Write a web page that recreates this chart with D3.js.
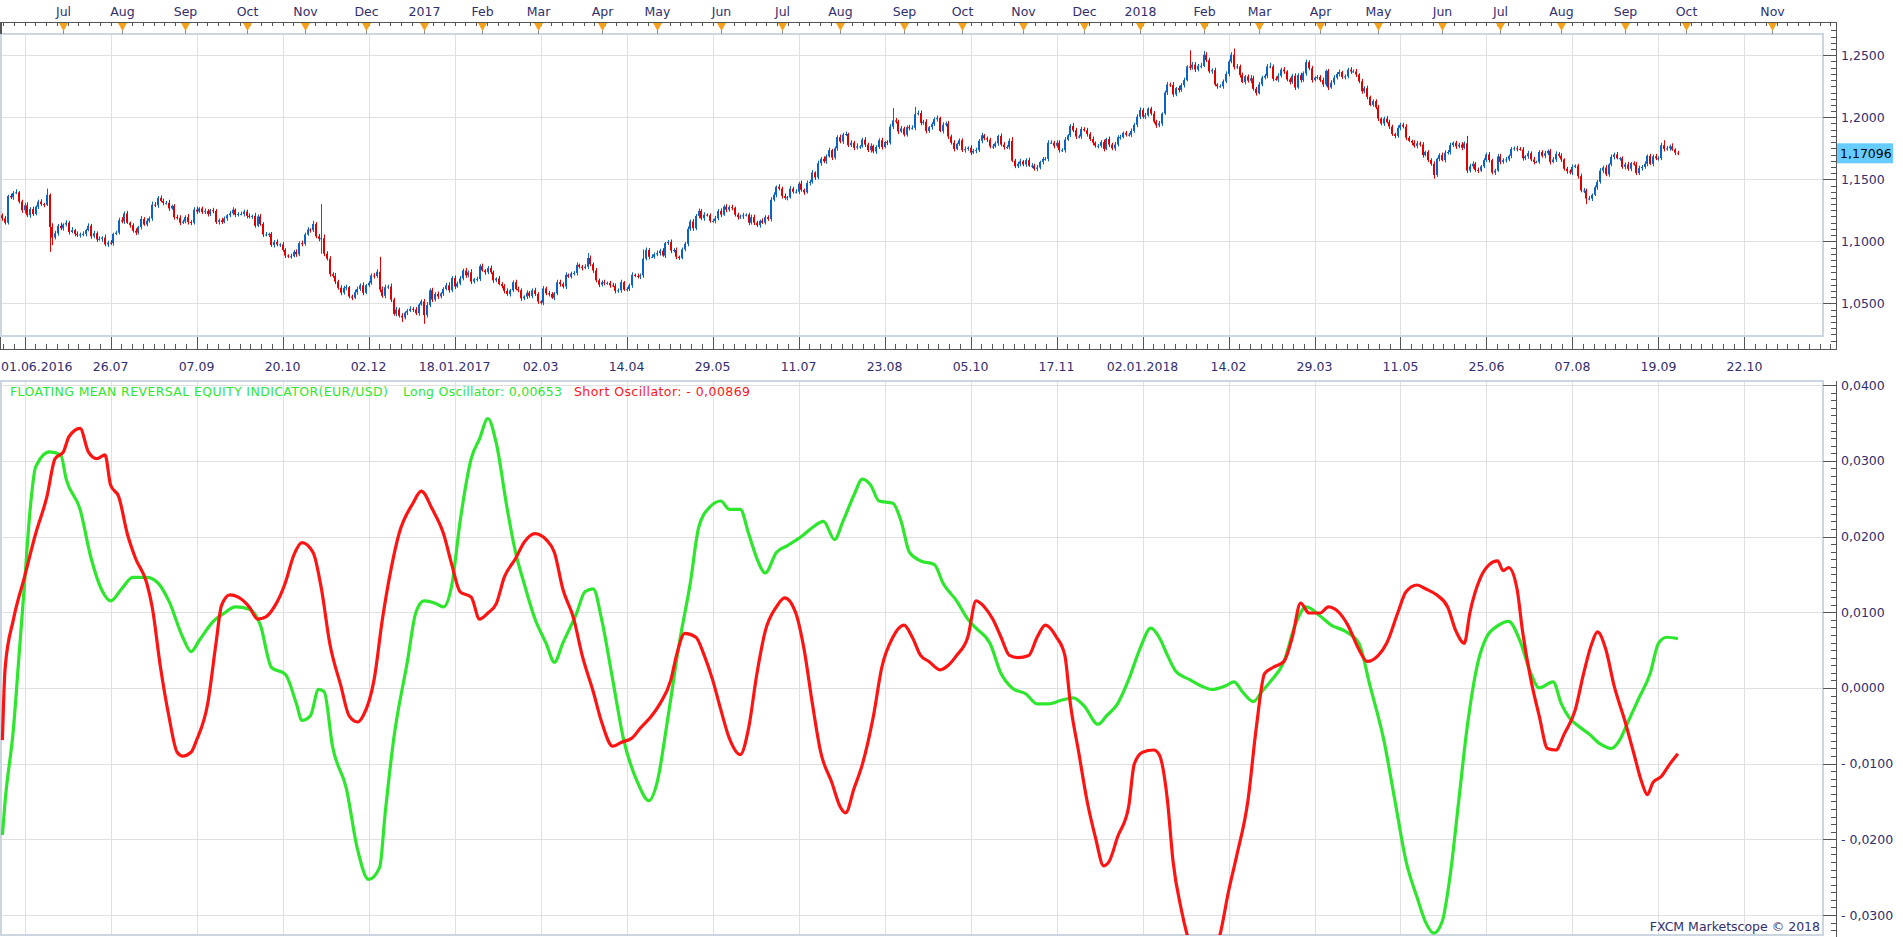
<!DOCTYPE html>
<html>
<head>
<meta charset="utf-8">
<script src="https://d3js.org/d3.v7.min.js"></script>
<style>
body { margin: 0; background: #fff; }
text { font-family: "DejaVu Sans", Verdana, sans-serif; font-size: 12.5px; fill: #302e6e; }
</style>
</head>
<body>
<div id="chart"></div>
<script>

// ---- data (EUR/USD daily, 01.06.2016 - 28.09.2018) ----
var firstOpen = 1.1210;
// daily closes, one trading week per line
var closes = [
1.1185,1.1150,1.1365,
1.1355,1.1390,1.1395,1.1320,1.1250,
1.1290,1.1210,1.1260,1.1220,1.1280,
1.1320,1.1300,1.1295,1.1375,1.1115,
1.1030,1.1065,1.1125,1.1105,1.1135,
1.1150,1.1075,1.1090,1.1060,1.1050,
1.1055,1.1060,1.1090,1.1125,1.1040,
1.1065,1.1015,1.1020,1.1030,1.0975,
1.0990,1.0985,1.1060,1.1070,1.1170,
1.1160,1.1225,1.1150,1.1130,1.1085,
1.1070,1.1115,1.1180,1.1135,1.1165,
1.1185,1.1295,1.1290,1.1350,1.1325,
1.1310,1.1310,1.1265,1.1285,1.1195,
1.1190,1.1150,1.1160,1.1195,1.1155,
1.1150,1.1255,1.1240,1.1265,1.1235,
1.1245,1.1220,1.1250,1.1245,1.1155,
1.1170,1.1155,1.1185,1.1210,1.1225,
1.1255,1.1215,1.1220,1.1220,1.1240,
1.1205,1.1200,1.1205,1.1125,1.1200,
1.1140,1.1055,1.1055,1.1060,1.0970,
1.0995,1.0975,1.0975,1.0930,1.0885,
1.0880,1.0880,1.0915,1.0895,1.0985,
1.0980,1.1055,1.1095,1.1090,1.1140,
1.1040,1.1020,1.1025,1.0900,1.0860,
1.0735,1.0720,1.0675,1.0625,1.0585,
1.0625,1.0630,1.0555,1.0545,1.0590,
1.0615,1.0645,1.0585,1.0645,1.0665,
1.0725,1.0720,1.0755,1.0610,1.0560,
1.0630,1.0635,1.0530,1.0415,1.0450,
1.0400,1.0385,1.0425,1.0440,1.0455,
1.0450,1.0420,1.0490,1.0515,
1.0405,1.0485,1.0605,1.0530,
1.0575,1.0555,1.0580,1.0615,1.0645,
1.0605,1.0705,1.0635,1.0660,1.0700,
1.0765,1.0725,1.0750,1.0675,1.0695,
1.0695,1.0800,1.0765,1.0750,1.0785,
1.0750,1.0685,1.0700,1.0655,1.0640,
1.0600,1.0575,1.0605,1.0670,1.0615,
1.0605,1.0540,1.0555,1.0585,1.0560,
1.0605,1.0575,1.0515,1.0505,1.0620,
1.0580,1.0575,1.0545,1.0580,1.0670,
1.0655,1.0635,1.0730,1.0715,1.0740,
1.0745,1.0810,1.0795,1.0785,1.0795,
1.0865,1.0815,1.0765,1.0685,1.0650,
1.0670,1.0665,1.0665,1.0645,1.0640,
1.0600,1.0605,1.0670,1.0610,1.0615,
1.0645,1.0730,1.0720,1.0715,1.0725,
1.0860,1.0930,1.0875,1.0875,1.0895,
1.0905,1.0925,1.0885,1.0985,1.0995,
1.0925,1.0930,1.0875,1.0865,1.0935,
1.0980,1.1100,1.1160,1.1105,1.1205,
1.1245,1.1185,1.1215,1.1210,1.1165,
1.1165,1.1185,1.1245,1.1215,1.1280,
1.1255,1.1275,1.1270,1.1215,1.1195,
1.1200,1.1210,1.1215,1.1150,1.1195,
1.1150,1.1130,1.1165,1.1150,1.1195,
1.1180,1.1335,1.1375,1.1440,1.1425,
1.1365,1.1350,1.1355,1.1425,1.1400,
1.1400,1.1465,1.1415,1.1395,1.1470,
1.1480,1.1555,1.1515,1.1630,1.1665,
1.1645,1.1685,1.1735,1.1675,1.1750,
1.1840,1.1805,1.1860,1.1865,1.1775,
1.1795,1.1755,1.1765,1.1765,1.1820,
1.1780,1.1735,1.1770,1.1725,1.1760,
1.1815,1.1760,1.1800,1.1795,1.1925,
1.1975,1.1965,1.1885,1.1910,1.1860,
1.1920,1.1915,1.1915,1.2025,1.2035,
1.1955,1.1965,1.1890,1.1920,1.1945,
1.1985,1.1995,1.1890,1.1940,1.1950,
1.1845,1.1795,1.1745,1.1785,1.1815,
1.1735,1.1745,1.1755,1.1715,1.1730,
1.1735,1.1810,1.1855,1.1830,1.1820,
1.1765,1.1765,1.1790,1.1850,1.1780,
1.1760,1.1760,1.1810,1.1650,1.1605,
1.1625,1.1645,1.1620,1.1655,1.1610,
1.1610,1.1585,1.1595,1.1640,1.1665,
1.1665,1.1795,1.1795,1.1770,1.1795,
1.1735,1.1735,1.1820,1.1855,1.1930,
1.1895,1.1845,1.1845,1.1905,1.1895,
1.1865,1.1825,1.1795,1.1770,1.1770,
1.1800,1.1745,1.1825,1.1780,1.1750,
1.1780,1.1840,1.1840,1.1875,1.1860,
1.1860,1.1890,1.1940,1.2005,
1.2060,1.2005,1.2015,1.2070,1.2030,
1.1965,1.1935,1.1950,1.2030,1.2200,
1.2265,1.2260,1.2185,1.2235,1.2220,
1.2260,1.2300,1.2410,1.2400,1.2425,
1.2385,1.2415,1.2415,1.2505,1.2460,
1.2370,1.2380,1.2265,1.2250,1.2250,
1.2290,1.2350,1.2450,1.2505,1.2405,
1.2410,1.2340,1.2285,1.2330,1.2295,
1.2315,1.2230,1.2195,1.2265,1.2320,
1.2335,1.2410,1.2410,1.2310,1.2305,
1.2335,1.2385,1.2370,1.2305,1.2285,
1.2335,1.2240,1.2340,1.2300,1.2355,
1.2445,1.2395,1.2300,1.2320,1.2325,
1.2300,1.2265,1.2375,1.2240,1.2280,
1.2320,1.2350,1.2365,1.2325,1.2330,
1.2385,1.2370,1.2370,1.2345,1.2290,
1.2210,1.2235,1.2165,1.2100,1.2130,
1.2080,1.1990,1.1950,1.1990,1.1960,
1.1925,1.1865,1.1850,1.1915,1.1940,
1.1925,1.1835,1.1810,1.1795,1.1770,
1.1790,1.1780,1.1695,1.1720,1.1655,
1.1625,1.1535,1.1665,1.1695,1.1655,
1.1715,1.1720,1.1775,1.1795,1.1765,
1.1780,1.1755,1.1790,1.1570,1.1605,
1.1625,1.1575,1.1570,1.1605,1.1655,
1.1700,1.1655,1.1555,1.1570,1.1685,
1.1640,1.1655,1.1660,1.1690,1.1745,
1.1750,1.1745,1.1740,1.1670,1.1685,
1.1710,1.1660,1.1640,1.1640,1.1720,
1.1690,1.1710,1.1730,1.1640,1.1660,
1.1705,1.1690,1.1660,1.1585,1.1565,
1.1555,1.1600,1.1610,1.1525,1.1410,
1.1410,1.1345,1.1345,1.1375,1.1435,
1.1480,1.1570,1.1595,1.1540,1.1620,
1.1680,1.1700,1.1670,1.1670,1.1600,
1.1620,1.1585,1.1630,1.1620,1.1550,
1.1590,1.1600,1.1625,1.1690,1.1625,
1.1685,1.1670,1.1670,1.1775,1.1745,
1.1750,1.1765,1.1740,1.1715,1.1710
];
// high above the body / low below the body, in pips
var wickUp = [
15,20,10, 20,15,25,10,15, 20,25,15,20,10, 15,20,10,50,10, 30,20,15,25,10,
20,15,25,10,20, 15,20,10,20,15, 20,15,20,10,25, 15,20,10,15,20, 25,15,20,10,15,
20,10,25,15,20, 15,25,20,15,20, 20,15,25,10,15, 20,20,15,15,25, 15,20,25,10,15,
20,15,10,20,15, 15,20,15,10,20, 20,10,15,20,15, 15,20,10,25,15, 20,15,20,10,15,
15,20,10,20,15, 10,20,15,20,15, 20,15,20,10,25, 15,20,275,30,20, 20,15,25,15,20,
15,20,10,15,20, 20,15,25,10,15, 15,20,20,120,25, 20,15,25,15,20, 15,20,10,15,20,
15,20,10,15, 20,25,15,20,
15,20,10,15,20, 25,15,20,15,20, 15,20,15,25,10, 20,15,20,10,15, 20,15,10,20,15,
15,20,10,15,20, 20,15,10,20,15, 15,20,15,10,20, 15,20,15,10,20, 20,15,20,10,15,
15,20,10,15,20, 40,20,15,20,15, 15,20,10,15,20, 20,15,20,10,15, 15,20,10,20,15,
75,20,15,20,15, 20,15,20,10,15, 20,15,20,10,15, 15,20,15,20,15, 20,15,20,10,15,
15,20,15,20,15, 20,15,20,10,15, 15,20,10,15,20, 20,15,10,20,15, 15,20,20,10,20,
15,20,10,20,15, 20,15,25,10,20, 15,20,10,20,15, 20,15,20,10,15, 15,20,15,20,10,
20,15,25,10,15, 20,15,20,10,15, 15,20,10,15,20, 100,20,15,20,15, 15,20,20,60,20,
20,15,20,10,15, 15,20,10,20,15, 20,15,20,10,15, 15,20,10,20,15, 20,15,20,10,15,
15,20,15,10,20, 20,15,20,30,15, 15,20,10,15,20, 20,15,20,10,15, 15,20,20,15,20,
20,15,20,10,15, 25,20,15,20,15, 20,15,20,10,15, 15,20,10,20,15, 20,15,20,10,15,
15,20,15,20,
20,15,20,10,15, 20,15,20,10,15, 20,15,25,10,20, 15,20,10,130,20, 20,15,25,30,20,
20,15,20,10,15, 15,20,15,20,50, 20,15,20,10,15, 25,20,15,20,15, 15,20,30,15,20,
20,15,20,10,15, 15,20,15,20,15, 20,15,20,10,15, 15,20,10,15,20, 20,15,20,10,15,
15,20,15,20,10, 20,15,20,10,15, 15,20,10,15,20, 20,15,10,20,15, 15,20,15,10,20,
20,15,20,10,15, 15,20,10,15,20, 20,15,20,10,15, 15,20,15,60,20, 20,15,20,10,15,
15,20,10,15,20, 20,15,20,10,15, 15,20,15,20,10, 20,15,20,10,15, 15,20,10,15,20,
20,15,20,10,15, 15,20,10,15,20, 20,15,20,10,15, 15,20,15,20,10, 20,15,20,10,15,
15,20,10,15,20, 20,15,20,10,15, 15,20,15,20,40, 20,15,25,10,15
];
var wickDn = [
20,15,15, 15,20,10,15,20, 25,15,20,15,10, 20,15,20,10,200, 60,15,20,15,20,
15,20,10,20,15, 20,15,20,10,20, 15,20,10,25,15, 20,15,20,10,15, 15,20,10,20,15,
20,15,20,10,15, 15,20,15,20,10, 20,15,20,10,20, 15,20,10,15,20, 20,15,20,10,15,
15,20,15,20,15, 20,15,10,20,15, 15,20,15,10,20, 20,15,20,15,10, 15,20,15,20,15,
20,15,20,15,20, 15,20,10,20,15, 20,15,10,20,15, 15,20,120,20,15, 20,15,20,15,20,
15,20,15,20,10, 20,15,20,10,15, 15,20,15,20,15, 20,15,20,15,20, 15,35,15,20,10,
20,15,20,10, 70,20,15,20,
15,20,15,20,10, 20,15,20,10,15, 15,20,15,20,15, 20,15,10,20,15, 15,20,15,10,20,
20,15,20,15,10, 15,20,15,20,15, 20,15,20,15,20, 15,20,10,20,15, 20,15,20,10,15,
15,20,15,20,10, 20,15,20,15,20, 15,20,15,20,10, 20,15,20,10,15, 15,20,10,15,20,
20,15,20,10,15, 15,20,10,20,15, 20,15,20,15,10, 15,20,15,20,15, 20,15,20,10,15,
15,20,15,20,10, 20,15,20,15,20, 15,20,10,20,15, 20,15,20,10,15, 15,20,15,20,15,
20,15,20,10,15, 15,20,15,20,10, 20,15,20,15,20, 15,20,10,20,15, 20,15,20,10,15,
15,20,15,20,10, 20,15,20,15,20, 15,20,10,20,15, 20,15,20,10,15, 15,20,15,20,10,
20,15,20,15,20, 15,20,10,20,15, 20,15,20,10,15, 15,20,15,20,10, 20,15,20,15,20,
15,20,10,20,15, 20,15,20,10,15, 15,20,15,20,10, 20,15,20,15,20, 15,20,10,20,15,
20,15,20,10,15, 15,20,15,20,10, 20,15,20,15,20, 15,20,10,20,15, 20,15,20,10,15,
15,20,15,20,
20,15,20,10,15, 15,20,15,20,10, 20,15,20,15,20, 15,20,10,20,15, 20,15,20,10,15,
15,20,15,20,10, 20,15,20,15,20, 15,20,10,20,15, 20,15,20,10,15, 15,20,15,20,10,
20,15,20,15,20, 15,20,10,20,15, 20,15,20,10,15, 15,20,15,20,10, 20,15,20,15,20,
15,20,10,20,15, 20,15,20,10,15, 15,20,15,20,10, 20,15,20,15,20, 15,20,10,20,15,
20,15,20,10,15, 15,30,15,20,10, 20,15,20,15,20, 15,20,10,20,15, 20,15,20,10,15,
15,20,15,20,10, 20,15,20,15,20, 15,20,10,20,15, 20,15,20,10,15, 15,20,15,20,10,
20,15,20,15,20, 15,20,10,20,15, 20,45,15,20,10, 20,15,20,15,20, 15,20,10,20,15,
20,15,20,10,15, 15,20,15,20,10, 20,15,20,15,20, 15,20,10,20,15
];
// oscillators: [bar index, value]
var longOsc = [
[0,-0.0194],[1,-0.0149],[4,-0.0053],[6,0.0043],[8,0.0139],[10,0.0236],[12,0.0292],[17,0.0312],[21,0.0308],[23,0.0276],
[28,0.0236],[32,0.0171],[36,0.0128],[39,0.0115],[43,0.0131],[47,0.0146],[52,0.0146],[56,0.0139],[60,0.0115],[65,0.0067],
[68,0.0048],[71,0.0063],[76,0.0088],[80,0.0099],[84,0.0107],[89,0.0104],[93,0.0083],[97,0.0027],[102,0.0018],[106,-0.0021],
[108,-0.0043],[111,-0.0037],[114,-0.0002],[116,-0.0005],[119,-0.0077],[124,-0.0133],[128,-0.0213],[132,-0.0253],[136,-0.0237],[138,-0.0165],
[141,-0.0069],[146,0.0035],[149,0.0099],[152,0.0115],[156,0.0112],[159,0.0107],[162,0.0136],[165,0.0220],[169,0.0303],[172,0.0329],
[175,0.0356],[178,0.0324],[182,0.0236],[185,0.0179],[188,0.0139],[192,0.0091],[196,0.0059],[199,0.0034],[202,0.0059],[207,0.0099],
[210,0.0127],[213,0.0131],[216,0.0091],[220,0.0011],[224,-0.0069],[229,-0.0125],[233,-0.0149],[236,-0.0125],[240,-0.0037],[244,0.0059],
[248,0.0139],[251,0.0212],[255,0.0239],[259,0.0247],[262,0.0236],[266,0.0236],[269,0.0204],[272,0.0171],[275,0.0152],[279,0.0179],
[283,0.0188],[288,0.0200],[292,0.0212],[296,0.0220],[300,0.0196],[303,0.0220],[307,0.0255],[310,0.0276],[313,0.0268],[316,0.0247],
[321,0.0244],[324,0.0220],[327,0.0179],[331,0.0168],[336,0.0163],[339,0.0139],[344,0.0115],[348,0.0091],[351,0.0079],[356,0.0059],
[360,0.0019],[364,0.0000],[369,-0.0008],[373,-0.0021],[377,-0.0021],[382,-0.0016],[386,-0.0013],[390,-0.0024],[395,-0.0048],[398,-0.0037],
[402,-0.0021],[406,0.0011],[410,0.0051],[414,0.0079],[417,0.0067],[420,0.0043],[423,0.0022],[428,0.0011],[432,0.0003],[436,-0.0002],
[441,0.0003],[444,0.0008],[447,-0.0005],[451,-0.0018],[454,-0.0005],[457,0.0008],[462,0.0035],[466,0.0083],[470,0.0107],[475,0.0095],
[479,0.0083],[484,0.0075],[489,0.0059],[493,0.0003],[498,-0.0069],[502,-0.0149],[506,-0.0229],[510,-0.0277],[513,-0.0309],[516,-0.0324],
[519,-0.0309],[522,-0.0245],[525,-0.0149],[528,-0.0053],[532,0.0035],[535,0.0067],[539,0.0082],[543,0.0088],[547,0.0063],[551,0.0019],
[554,0.0000],[559,0.0008],[562,-0.0021],[565,-0.0040],[568,-0.0050],[572,-0.0061],[576,-0.0074],[580,-0.0080],[583,-0.0069],[586,-0.0045],
[590,-0.0013],[594,0.0019],[597,0.0059],[600,0.0067],[604,0.0065]
];
var shortOsc = [
[0,-0.0069],[1,0.0027],[4,0.0091],[8,0.0147],[12,0.0204],[16,0.0252],[19,0.0303],[22,0.0312],[24,0.0332],[28,0.0343],
[31,0.0312],[34,0.0303],[37,0.0308],[39,0.0268],[42,0.0252],[45,0.0204],[48,0.0171],[52,0.0139],[54,0.0107],[57,0.0027],
[60,-0.0037],[63,-0.0085],[65,-0.0090],[68,-0.0085],[70,-0.0069],[74,-0.0021],[77,0.0059],[79,0.0109],[82,0.0123],[85,0.0120],
[89,0.0107],[92,0.0091],[95,0.0094],[98,0.0107],[102,0.0139],[105,0.0175],[108,0.0192],[112,0.0179],[115,0.0131],[118,0.0059],
[122,0.0003],[125,-0.0037],[128,-0.0045],[130,-0.0037],[134,0.0011],[137,0.0091],[140,0.0155],[143,0.0204],[148,0.0244],[151,0.0260],
[155,0.0236],[159,0.0204],[162,0.0163],[165,0.0127],[169,0.0120],[172,0.0091],[175,0.0099],[178,0.0111],[181,0.0147],[185,0.0171],
[188,0.0192],[192,0.0204],[196,0.0196],[199,0.0179],[202,0.0131],[206,0.0091],[209,0.0043],[213,-0.0005],[216,-0.0045],[220,-0.0077],
[223,-0.0072],[227,-0.0066],[230,-0.0053],[234,-0.0037],[237,-0.0021],[241,0.0011],[243,0.0043],[246,0.0072],[250,0.0067],[253,0.0043],
[256,0.0011],[259,-0.0029],[262,-0.0066],[266,-0.0088],[269,-0.0053],[272,0.0019],[275,0.0075],[279,0.0107],[282,0.0119],[286,0.0099],
[289,0.0051],[292,-0.0021],[295,-0.0085],[299,-0.0125],[302,-0.0157],[304,-0.0165],[307,-0.0133],[310,-0.0101],[314,-0.0037],[317,0.0027],
[321,0.0067],[325,0.0083],[328,0.0067],[331,0.0043],[334,0.0035],[338,0.0024],[341,0.0030],[344,0.0043],[348,0.0067],[351,0.0115],
[354,0.0107],[357,0.0091],[360,0.0067],[363,0.0043],[366,0.0040],[370,0.0043],[373,0.0067],[376,0.0083],[380,0.0067],[383,0.0043],
[385,-0.0021],[388,-0.0085],[391,-0.0149],[394,-0.0197],[397,-0.0235],[399,-0.0229],[402,-0.0197],[406,-0.0157],[408,-0.0101],[411,-0.0085],
[415,-0.0082],[417,-0.0088],[420,-0.0149],[422,-0.0229],[425,-0.0293],[427,-0.0325],[430,-0.0357],[434,-0.0365],[439,-0.0325],[442,-0.0269],
[445,-0.0221],[449,-0.0149],[452,-0.0053],[455,0.0019],[458,0.0027],[462,0.0035],[465,0.0067],[468,0.0112],[471,0.0099],[475,0.0099],
[478,0.0107],[482,0.0099],[485,0.0083],[489,0.0051],[492,0.0035],[496,0.0043],[499,0.0059],[503,0.0099],[506,0.0127],[510,0.0136],
[513,0.0131],[517,0.0123],[521,0.0107],[524,0.0075],[527,0.0059],[529,0.0099],[533,0.0147],[536,0.0163],[539,0.0168],[541,0.0155],
[543,0.0159],[546,0.0131],[548,0.0075],[551,0.0011],[554,-0.0037],[557,-0.0080],[560,-0.0082],[563,-0.0061],[567,-0.0029],[570,0.0019],
[573,0.0059],[575,0.0074],[578,0.0051],[581,0.0003],[585,-0.0045],[588,-0.0085],[591,-0.0125],[593,-0.0141],[595,-0.0125],[598,-0.0117],
[601,-0.0101],[604,-0.0087]
];
var lastPrice = 1.17096, lastLong = 0.00653, lastShort = -0.00869;

var monthLabels = ["Jul","Aug","Sep","Oct","Nov","Dec","2017","Feb","Mar","Apr","May","Jun",
  "Jul","Aug","Sep","Oct","Nov","Dec","2018","Feb","Mar","Apr","May","Jun","Jul","Aug","Sep","Oct","Nov"];
var dateLabels = ["01.06.2016","26.07","07.09","20.10","02.12","18.01.2017","02.03","14.04","29.05","11.07",
  "23.08","05.10","17.11","02.01.2018","14.02","29.03","11.05","25.06","07.08","19.09","22.10"];
var priceTicks = [1.05, 1.10, 1.15, 1.20, 1.25];
var oscTicks = [-0.03, -0.02, -0.01, 0, 0.01, 0.02, 0.03, 0.04];
var holidays = ["2016-12-26", "2017-01-02", "2017-12-25"];

// ---- layout ----
var width = 1903, height = 937;
var plotRight = 1823, axisX = 1836;
var pricePane = {top: 34, bottom: 336};
var oscPane = {top: 381, bottom: 935};
var upColor = '#0b63c6', downColor = '#e10000';
var longColor = '#2ee62e', shortColor = '#ff1414';
var gridColor = '#e0e0e0', frameColor = '#ccd6e1', axisColor = '#555';

var svg = d3.select('#chart').append('svg')
    .attr('width', width)
    .attr('height', height);

// trading calendar (weekdays, minus holidays); future continues by calendar day
var dayFmt = d3.timeFormat('%Y-%m-%d');
var days = [];
for (var d = new Date(2016, 5, 1); days.length < closes.length; d = d3.timeDay.offset(d, 1)) {
  if (d.getDay() === 0 || d.getDay() === 6 || holidays.indexOf(dayFmt(d)) >= 0) continue;
  days.push(d);
}
function indexOfDate(dt) {
  var i = days.findIndex(function(t) { return t >= dt; });
  if (i >= 0) return i;
  return days.length - 1 + d3.timeDay.count(days[days.length - 1], dt);
}
var months = d3.timeMonth.range(new Date(2016, 6, 1), new Date(2018, 11, 1));
var dateTickIdx = dateLabels.map(function(l, k) { return 8 + 31 * k; });

var x = d3.scaleLinear().domain([0, 604]).range([2.4, 2.4 + 604 * 2.774]);
var yP = d3.scaleLinear().domain([1.05, 1.25]).range([303.3, 55.3]);
var yO = d3.scaleLinear().domain([-0.03, 0.04]).range([915, 385.2]);

function px(v) { return Math.round(v) + 0.5; }

// ---- grids ----
var grid = svg.append('g');
[pricePane, oscPane].forEach(function(p) {
  grid.selectAll(null).data(dateTickIdx).enter().append('line')
    .attr('x1', function(i) { return px(x(i)); }).attr('x2', function(i) { return px(x(i)); })
    .attr('y1', p.top).attr('y2', p.bottom)
    .attr('stroke', gridColor);
});
grid.selectAll(null).data(priceTicks).enter().append('line')
  .attr('x1', 0).attr('x2', plotRight)
  .attr('y1', function(v) { return px(yP(v)); }).attr('y2', function(v) { return px(yP(v)); })
  .attr('stroke', gridColor);
grid.selectAll(null).data(oscTicks).enter().append('line')
  .attr('x1', 0).attr('x2', plotRight)
  .attr('y1', function(v) { return px(yO(v)); }).attr('y2', function(v) { return px(yO(v)); })
  .attr('stroke', gridColor);

// ---- frames ----
[pricePane, oscPane].forEach(function(p) {
  svg.append('rect')
    .attr('x', 1).attr('y', p.top)
    .attr('width', plotRight - 1).attr('height', p.bottom - p.top)
    .attr('fill', 'none').attr('stroke', frameColor).attr('stroke-width', 2);
});

// ---- price bars ----
var bars = closes.map(function(c, i) {
  var o = i === 0 ? firstOpen : closes[i - 1];   // FX daily bars open at prior close
  return {i: i, o: o, c: c,
    h: Math.max(o, c) + wickUp[i] / 10000,
    l: Math.min(o, c) - wickDn[i] / 10000};
});
var barG = svg.append('g').selectAll('g').data(bars).enter().append('g');
barG.append('line')
  .attr('x1', function(d) { return px(x(d.i)); })
  .attr('x2', function(d) { return px(x(d.i)); })
  .attr('y1', function(d) { return yP(d.h); })
  .attr('y2', function(d) { return yP(d.l); })
  .attr('stroke', function(d) { return d.c >= d.o ? upColor : downColor; })
  .attr('stroke-width', 1);
barG.append('rect')
  .attr('x', function(d) { return Math.round(x(d.i)) - 1; })
  .attr('width', 2)
  .attr('y', function(d) { return yP(Math.max(d.o, d.c)); })
  .attr('height', function(d) { return Math.max(1, yP(Math.min(d.o, d.c)) - yP(Math.max(d.o, d.c))); })
  .attr('fill', function(d) { return d.c >= d.o ? upColor : downColor; });

// ---- oscillators ----
svg.append('clipPath').attr('id', 'oscClip').append('rect')
  .attr('x', 0).attr('y', oscPane.top).attr('width', plotRight).attr('height', oscPane.bottom - oscPane.top);
var oscLine = d3.line()
  .x(function(d) { return x(d[0]); })
  .y(function(d) { return yO(d[1]); })
  .curve(d3.curveMonotoneX);
var oscG = svg.append('g').attr('clip-path', 'url(#oscClip)');
oscG.append('path').datum(longOsc).attr('d', oscLine)
  .attr('fill', 'none').attr('stroke', longColor).attr('stroke-width', 3.2).attr('stroke-linejoin', 'round');
oscG.append('path').datum(shortOsc).attr('d', oscLine)
  .attr('fill', 'none').attr('stroke', shortColor).attr('stroke-width', 3.2).attr('stroke-linejoin', 'round');

// ---- top month axis ----
var topAxis = svg.append('g');
topAxis.append('line').attr('x1', 0).attr('x2', axisX + 1).attr('y1', 22.5).attr('y2', 22.5).attr('stroke', axisColor);
topAxis.append('rect').attr('x', 0).attr('y', 22).attr('width', 2).attr('height', 12).attr('fill', axisColor);
var minorIdx = d3.range(-2, 170).map(function(j) { return 8 + j * 31 / 8; })
  .filter(function(i) { return x(i) >= 0 && x(i) <= axisX; });
topAxis.selectAll(null).data(minorIdx).enter().append('line')
  .attr('x1', function(i) { return px(x(i)); }).attr('x2', function(i) { return px(x(i)); })
  .attr('y1', 22).attr('y2', 26).attr('stroke', axisColor);
var monthG = topAxis.selectAll(null).data(months).enter().append('g')
  .attr('transform', function(m) { return 'translate(' + Math.round(x(indexOfDate(m))) + ',0)'; });
monthG.append('line').attr('x1', 0.5).attr('x2', 0.5).attr('y1', 28).attr('y2', 34).attr('stroke', '#888');
monthG.append('path').attr('d', 'M-4,23L5,23L0.5,31Z').attr('fill', '#f6a11c');
monthG.append('text').attr('x', 0.5).attr('y', 15.5).attr('text-anchor', 'middle')
  .text(function(m, k) { return monthLabels[k]; });

// ---- bottom date axis ----
var botAxis = svg.append('g');
botAxis.append('line').attr('x1', 0).attr('x2', axisX + 1).attr('y1', 349.5).attr('y2', 349.5).attr('stroke', axisColor);
botAxis.selectAll(null).data(minorIdx).enter().append('line')
  .attr('x1', function(i) { return px(x(i)); }).attr('x2', function(i) { return px(x(i)); })
  .attr('y1', 344).attr('y2', 349).attr('stroke', axisColor);
botAxis.selectAll(null).data(dateTickIdx).enter().append('line')
  .attr('x1', function(i) { return px(x(i)); }).attr('x2', function(i) { return px(x(i)); })
  .attr('y1', 337).attr('y2', 349).attr('stroke', axisColor);
botAxis.append('line').attr('x1', 0.5).attr('x2', 0.5).attr('y1', 337).attr('y2', 349).attr('stroke', axisColor);
botAxis.selectAll(null).data(dateLabels).enter().append('text')
  .attr('x', function(l, k) { return k === 0 ? 1 : x(dateTickIdx[k]); })
  .attr('y', 370.5)
  .attr('text-anchor', function(l, k) { return k === 0 ? 'start' : 'middle'; })
  .text(function(l) { return l; });

// ---- right price axis ----
var fmt4 = d3.format('.4f'), fmt5 = d3.format('.5f');
function comma(v) { return fmt4(v).replace('.', ','); }
var ra = svg.append('g');
ra.append('line').attr('x1', axisX + 0.5).attr('x2', axisX + 0.5).attr('y1', 22).attr('y2', 350).attr('stroke', axisColor);
var pMinor = d3.range(0, 51).map(function(k) { return 1.02 + k * 0.005; })
  .filter(function(v) { return yP(v) > 24 && yP(v) < 347; });
ra.selectAll(null).data(pMinor).enter().append('line')
  .attr('x1', axisX - 5).attr('x2', axisX)
  .attr('y1', function(v) { return px(yP(v)); }).attr('y2', function(v) { return px(yP(v)); })
  .attr('stroke', axisColor);
ra.selectAll(null).data(priceTicks).enter().append('line')
  .attr('x1', plotRight).attr('x2', axisX)
  .attr('y1', function(v) { return px(yP(v)); }).attr('y2', function(v) { return px(yP(v)); })
  .attr('stroke', axisColor);
ra.selectAll(null).data(priceTicks).enter().append('text')
  .attr('x', 1841).attr('y', function(v) { return yP(v) + 4.5; })
  .text(comma);
ra.append('rect').attr('x', 1837).attr('y', yP(lastPrice) - 10).attr('width', 56).attr('height', 20).attr('fill', '#66ccff');
ra.append('text').attr('x', 1840).attr('y', yP(lastPrice) + 4.5).style('fill', '#000')
  .text(fmt5(lastPrice).replace('.', ','));

// ---- right oscillator axis ----
function oscFmt(v) { return v < 0 ? '- ' + comma(-v) : comma(v); }
var oa = svg.append('g');
oa.append('line').attr('x1', axisX + 0.5).attr('x2', axisX + 0.5).attr('y1', oscPane.top).attr('y2', height).attr('stroke', axisColor);
var oMinor = d3.range(0, 80).map(function(k) { return -0.035 + k * 0.001; })
  .filter(function(v) { return yO(v) > oscPane.top && yO(v) < height; });
oa.selectAll(null).data(oMinor).enter().append('line')
  .attr('x1', axisX - 5).attr('x2', axisX)
  .attr('y1', function(v) { return px(yO(v)); }).attr('y2', function(v) { return px(yO(v)); })
  .attr('stroke', axisColor);
oa.selectAll(null).data(oscTicks).enter().append('line')
  .attr('x1', plotRight).attr('x2', axisX)
  .attr('y1', function(v) { return px(yO(v)); }).attr('y2', function(v) { return px(yO(v)); })
  .attr('stroke', axisColor);
oa.selectAll(null).data(oscTicks).enter().append('text')
  .attr('x', 1841).attr('y', function(v) { return yO(v) + 4.5; })
  .text(oscFmt);

// ---- legend & footer ----
function val5(v) { return (v < 0 ? '- ' : '') + fmt5(Math.abs(v)).replace('.', ','); }
svg.append('text').attr('x', 10).attr('y', 396).style('fill', longColor)
  .attr('textLength', 378).attr('lengthAdjust', 'spacing')
  .text('FLOATING MEAN REVERSAL EQUITY INDICATOR(EUR/USD)');
svg.append('text').attr('x', 403).attr('y', 396).style('fill', longColor)
  .attr('textLength', 159).attr('lengthAdjust', 'spacing')
  .text('Long Oscillator: ' + val5(lastLong));
svg.append('text').attr('x', 574).attr('y', 396).style('fill', shortColor)
  .attr('textLength', 176).attr('lengthAdjust', 'spacing')
  .text('Short Oscillator: ' + val5(lastShort));
svg.append('text').attr('x', 1820).attr('y', 931).attr('text-anchor', 'end')
  .text('FXCM Marketscope \u00a9 2018');

</script>
</body>
</html>
